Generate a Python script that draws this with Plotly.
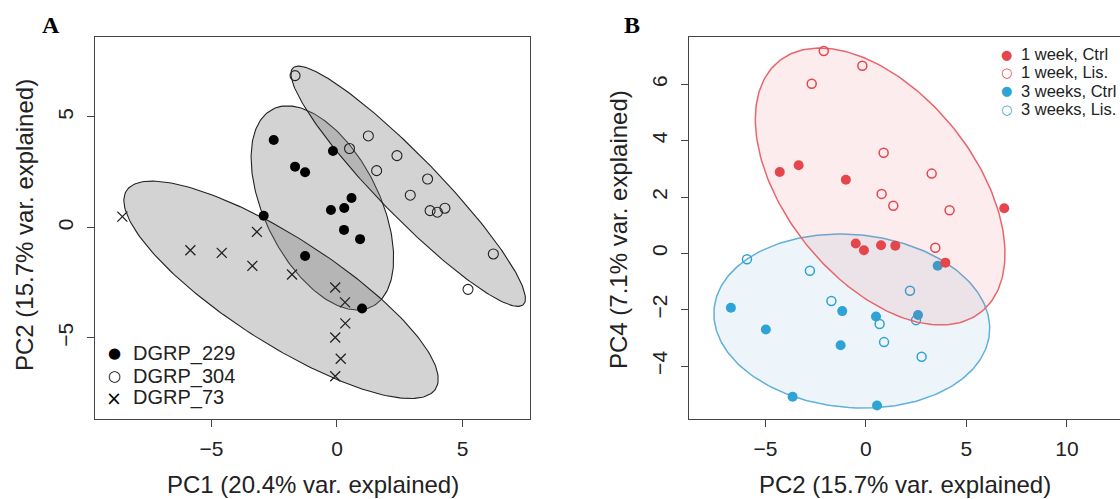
import numpy as np
import plotly.graph_objects as go

# ---------------- Panel A data (PC1 vs PC2) ----------------
a229_x = [-2.52, -1.67, -1.27, -0.16, 0.58, -0.24, 0.29, 0.28, 0.92, -2.92, -1.27, 1.00]
a229_y = [3.96, 2.75, 2.50, 3.46, 1.33, 0.79, 0.88, -0.11, -0.53, 0.53, -1.29, -3.67]
a304_x = [-1.67, 1.25, 0.50, 1.58, 2.39, 3.61, 2.92, 3.71, 4.00, 4.30, 6.23, 5.22]
a304_y = [6.87, 4.14, 3.57, 2.57, 3.25, 2.19, 1.46, 0.76, 0.69, 0.87, -1.20, -2.80]
a73_x = [-8.55, -3.19, -5.84, -4.59, -3.37, -1.79, -0.07, 0.32, 0.33, -0.07, 0.15, -0.07]
a73_y = [0.49, -0.20, -1.03, -1.15, -1.74, -2.13, -2.72, -3.39, -4.34, -4.98, -5.94, -6.73]
a_names = ["DGRP_229", "DGRP_304", "DGRP_73"]

# ---------------- Panel B data (PC2 vs PC4) ----------------
w1c_x = [-4.29, -3.35, -1.00, 6.88, -0.51, -0.10, 0.75, 1.46, 3.95]
w1c_y = [2.89, 3.13, 2.61, 1.60, 0.35, 0.11, 0.29, 0.27, -0.33]
w1l_x = [-2.10, -0.18, -2.70, 0.88, 3.27, 0.78, 1.36, 4.16, 3.45]
w1l_y = [7.18, 6.66, 6.02, 3.57, 2.83, 2.11, 1.69, 1.53, 0.20]
w3c_x = [-6.72, -4.98, -1.18, -1.26, 0.50, 2.59, 3.57, -3.65, 0.55]
w3c_y = [-1.93, -2.70, -2.05, -3.26, -2.24, -2.19, -0.44, -5.09, -5.40]
w3l_x = [-5.92, -2.79, -1.72, 2.19, 0.68, 0.90, 2.77, 2.49]
w3l_y = [-0.21, -0.62, -1.69, -1.33, -2.51, -3.15, -3.67, -2.37]
b_names = ["1 week, Ctrl", "1 week, Lis.", "3 weeks, Ctrl", "3 weeks, Lis."]

a_xticks = [-5, 0, 5]
a_yticks = [-5, 0, 5]
b_xticks = [-5, 0, 5, 10]
b_yticks = [-4, -2, 0, 2, 4, 6]

RED = "#E4464C"
BLUE = "#2EA3D5"
FONT = "Liberation Sans, Arial, sans-serif"
W, H = 1120, 499


def ellipse(xs, ys, level_k=np.sqrt(-2 * np.log(0.1)), n=240):
    xs = np.asarray(xs, float)
    ys = np.asarray(ys, float)
    c = np.cov(xs, ys)
    vals, vecs = np.linalg.eigh(c)
    t = np.linspace(0, 2 * np.pi, n)
    circ = np.vstack([np.cos(t), np.sin(t)])
    pts = vecs @ (np.sqrt(vals)[:, None] * circ) * level_k
    return pts[0] + xs.mean(), pts[1] + ys.mean()


fig = go.Figure()

# Panel A ellipses
for gx, gy in [(a229_x, a229_y), (a304_x, a304_y), (a73_x, a73_y)]:
    ex, ey = ellipse(gx, gy)
    fig.add_trace(go.Scatter(x=ex, y=ey, mode="lines", fill="toself",
                             fillcolor="rgba(120,120,120,0.33)",
                             line=dict(color="#222", width=1.1),
                             hoverinfo="skip", showlegend=False,
                             xaxis="x", yaxis="y"))
# Panel A points
fig.add_trace(go.Scatter(x=a229_x, y=a229_y, mode="markers", name=a_names[0],
                         marker=dict(symbol="circle", size=10, color="black"),
                         showlegend=False, xaxis="x", yaxis="y"))
fig.add_trace(go.Scatter(x=a304_x, y=a304_y, mode="markers", name=a_names[1],
                         marker=dict(symbol="circle-open", size=10, color="#222",
                                     line=dict(width=1.1)),
                         showlegend=False, xaxis="x", yaxis="y"))
fig.add_trace(go.Scatter(x=a73_x, y=a73_y, mode="markers", name=a_names[2],
                         marker=dict(symbol="x-thin", size=10, color="#222",
                                     line=dict(width=1.3, color="#222")),
                         showlegend=False, xaxis="x", yaxis="y"))

# Panel B: blue ellipse, blue points, red ellipse, red points
bx, by = ellipse(w3c_x + w3l_x, w3c_y + w3l_y)
fig.add_trace(go.Scatter(x=bx, y=by, mode="lines", fill="toself",
                         fillcolor="rgba(70,140,200,0.09)",
                         line=dict(color="#62B0DA", width=1.5),
                         hoverinfo="skip", showlegend=False, xaxis="x2", yaxis="y2"))
fig.add_trace(go.Scatter(x=w3c_x, y=w3c_y, mode="markers", name=b_names[2],
                         marker=dict(symbol="circle", size=10, color=BLUE),
                         showlegend=False, xaxis="x2", yaxis="y2"))
fig.add_trace(go.Scatter(x=w3l_x, y=w3l_y, mode="markers", name=b_names[3],
                         marker=dict(symbol="circle-open", size=9, color=BLUE,
                                     line=dict(width=1.5)),
                         showlegend=False, xaxis="x2", yaxis="y2"))
rx, ry = ellipse(w1c_x + w1l_x, w1c_y + w1l_y)
fig.add_trace(go.Scatter(x=rx, y=ry, mode="lines", fill="toself",
                         fillcolor="rgba(230,70,75,0.10)",
                         line=dict(color="#E8666B", width=1.5),
                         hoverinfo="skip", showlegend=False, xaxis="x2", yaxis="y2"))
fig.add_trace(go.Scatter(x=w1c_x, y=w1c_y, mode="markers", name=b_names[0],
                         marker=dict(symbol="circle", size=10, color=RED),
                         showlegend=False, xaxis="x2", yaxis="y2"))
fig.add_trace(go.Scatter(x=w1l_x, y=w1l_y, mode="markers", name=b_names[1],
                         marker=dict(symbol="circle-open", size=9, color=RED,
                                     line=dict(width=1.5)),
                         showlegend=False, xaxis="x2", yaxis="y2"))


def px_x(p):
    return p / W


def px_y(p):
    return 1 - p / H


axis_common = dict(showgrid=False, zeroline=False, ticks="outside", ticklen=7,
                   tickwidth=1, tickcolor="#444", showline=True, linecolor="#444",
                   linewidth=1, tickfont=dict(family=FONT, size=21, color="#222"))

fig.update_layout(
    width=W, height=H, margin=dict(l=0, r=0, t=0, b=0),
    paper_bgcolor="white", plot_bgcolor="white", showlegend=False,
    xaxis=dict(domain=[px_x(95), px_x(530)], range=[-9.64, 7.69], tickvals=a_xticks,
               mirror=True, anchor="y", ticklabelstandoff=3, **axis_common),
    yaxis=dict(domain=[px_y(419.3), px_y(36.7)], range=[-8.68, 8.63], tickvals=a_yticks,
               mirror=True, anchor="x", tickangle=-90, ticklabelstandoff=6, **axis_common),
    xaxis2=dict(domain=[px_x(689.3), 1.0], range=[-8.79, 12.64], tickvals=b_xticks,
                mirror=True, anchor="y2", ticklabelstandoff=3, **axis_common),
    yaxis2=dict(domain=[px_y(419.3), px_y(36.7)], range=[-5.89, 7.69], tickvals=b_yticks,
                mirror=False, anchor="x2", tickangle=-90, ticklabelstandoff=6, **axis_common),
)

ann = []
title_font = dict(family=FONT, size=24, color="#222")
# axis titles
ann.append(dict(text="PC1 (20.4% var. explained)", x=px_x(312.5), y=px_y(484),
                xref="paper", yref="paper", showarrow=False, font=title_font,
                xanchor="center", yanchor="middle"))
ann.append(dict(text="PC2 (15.7% var. explained)", x=px_x(24), y=px_y(225),
                xref="paper", yref="paper", showarrow=False, font=title_font,
                textangle=-90, xanchor="center", yanchor="middle"))
ann.append(dict(text="PC2 (15.7% var. explained)", x=px_x(905), y=px_y(484),
                xref="paper", yref="paper", showarrow=False, font=title_font,
                xanchor="center", yanchor="middle"))
ann.append(dict(text="PC4 (7.1% var. explained)", x=px_x(618), y=px_y(230),
                xref="paper", yref="paper", showarrow=False, font=title_font,
                textangle=-90, xanchor="center", yanchor="middle"))
# panel letters
letter_font = dict(family="Liberation Serif, Times New Roman, serif", size=24, color="black")
ann.append(dict(text="<b>A</b>", x=px_x(51), y=px_y(25), xref="paper", yref="paper",
                showarrow=False, font=letter_font, xanchor="center", yanchor="middle"))
ann.append(dict(text="<b>B</b>", x=px_x(632), y=px_y(25), xref="paper", yref="paper",
                showarrow=False, font=letter_font, xanchor="center", yanchor="middle"))

# legend A
legA_sym = ["\u25CF", "\u25CB", "\u00D7"]
legA_rows = [353, 376, 397.5]
for name, sym, yy in zip(a_names, legA_sym, legA_rows):
    ann.append(dict(text=sym, x=px_x(114), y=px_y(yy), xref="paper", yref="paper",
                    showarrow=False, xanchor="center", yanchor="middle",
                    font=dict(family="DejaVu Sans", size=15 if sym != "\u00D7" else 19,
                              color="black")))
    ann.append(dict(text=name, x=px_x(131), y=px_y(yy), xref="paper", yref="paper",
                    showarrow=False, xanchor="left", yanchor="middle",
                    font=dict(family=FONT, size=20, color="#222")))

# legend B
legB_sym = ["\u25CF", "\u25CB", "\u25CF", "\u25CB"]
legB_col = [RED, RED, BLUE, BLUE]
legB_rows = [54.3, 72.5, 91, 109.3]
for name, sym, col, yy in zip(b_names, legB_sym, legB_col, legB_rows):
    ann.append(dict(text=sym, x=px_x(1006.5), y=px_y(yy), xref="paper", yref="paper",
                    showarrow=False, xanchor="center", yanchor="middle",
                    font=dict(family="DejaVu Sans", size=13, color=col)))
    ann.append(dict(text=name, x=px_x(1019), y=px_y(yy), xref="paper", yref="paper",
                    showarrow=False, xanchor="left", yanchor="middle",
                    font=dict(family=FONT, size=16.5, color="#222")))

fig.update_layout(annotations=ann)
fig.write_html("out.html", config={"displayModeBar": False},
               post_script="document.body.style.margin='0';document.body.style.overflow='hidden';")
